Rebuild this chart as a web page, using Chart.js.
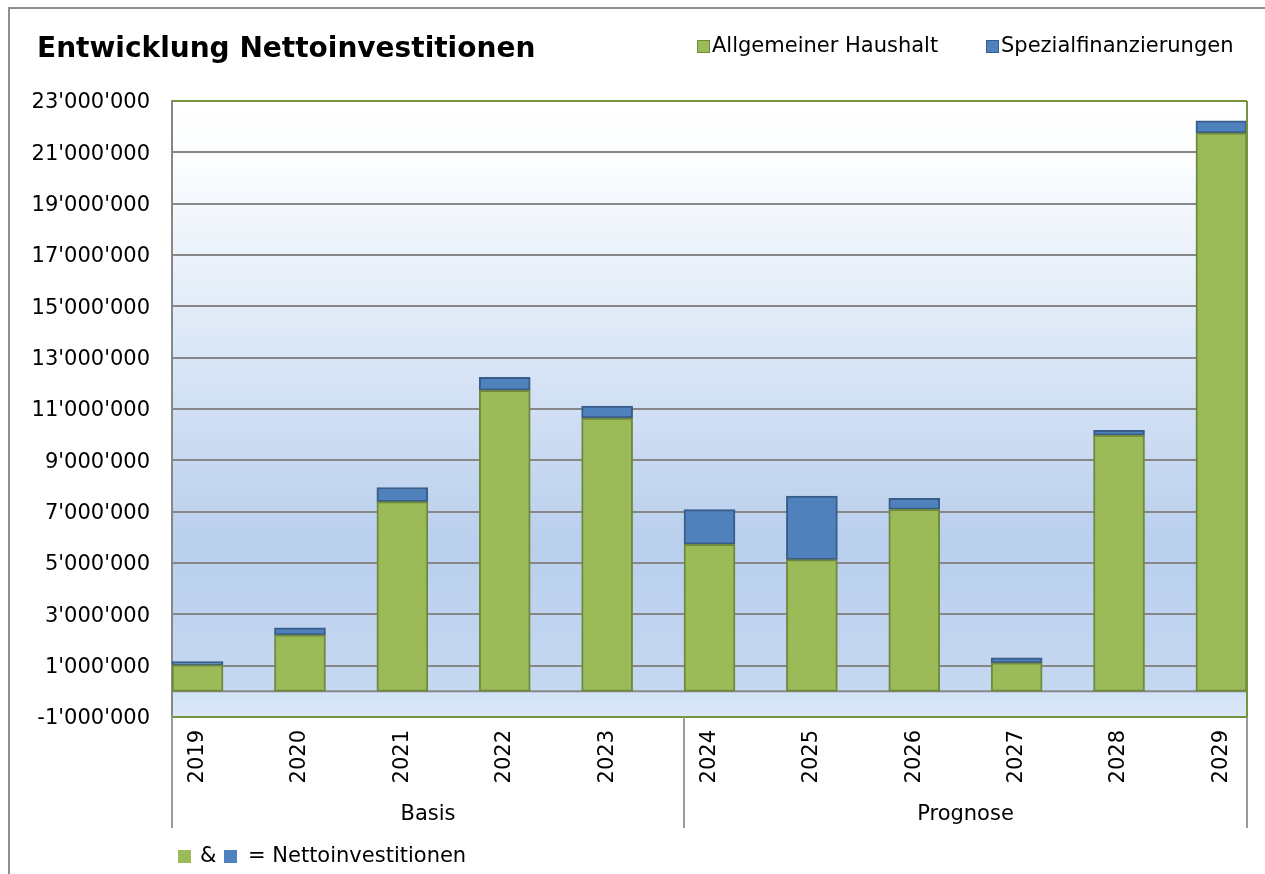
<!DOCTYPE html>
<html>
<head>
<meta charset="utf-8">
<script src="https://cdn.jsdelivr.net/npm/chart.js@4.4.0/dist/chart.umd.min.js"></script>
<style>
  body { margin: 0; background: #fff; font-family: Verdana, 'DejaVu Sans', sans-serif; color: #000; }
  #wrap { position: relative; width: 1265px; height: 874px; overflow: hidden; }
  #frame { position: absolute; left: 8px; top: 7px; width: 1300px; height: 900px;
           border-left: 2px solid #8e8e8e; border-top: 2px solid #8e8e8e; }
  #chart { position: absolute; left: 0; top: 0; }
  #title { position: absolute; left: 37px; top: 34px; font-size: 28px; line-height: 28px; font-weight: bold; white-space: nowrap; }
  .t { position: absolute; font-size: 21px; line-height: 21px; white-space: nowrap; }
  .sq { position: absolute; width: 13px; height: 13px; box-sizing: border-box; }
</style>
</head>
<body>
<div id="wrap">
  <div id="frame"></div>
  <canvas id="chart" width="1265" height="874"></canvas>
  <div id="title">Entwicklung Nettoinvestitionen</div>
  <div id="legend"></div>
  <div id="note"></div>
</div>
<script>
  // data
  const years = ['2019', '2020', '2021', '2022', '2023', '2024', '2025', '2026', '2027', '2028', '2029'];
  const groups = ['Basis', 'Prognose'];
  const groupStart = [0, 5];
  const haushalt = [1030000, 2200000, 7390000, 11730000, 10650000, 5730000, 5130000, 7090000, 1110000, 9980000, 21760000];
  const spezial = [130000, 270000, 550000, 500000, 460000, 1350000, 2480000, 430000, 200000, 190000, 470000];
  const seriesNames = ['Allgemeiner Haushalt', 'Spezialfinanzierungen'];
  const noteText = '= Nettoinvestitionen';
  const yMin = -1000000, yMax = 23000000, yStep = 2000000;

  const green = '#9bbb59', greenLine = '#71893f';
  const blue = '#4f81bd', blueLine = '#385d8a';
  const gridGray = '#878787', frameGreen = '#77933c';
  const font = "Verdana, 'DejaVu Sans', sans-serif";
  const barW = 51, pad = 0.25;

  function fmt(v) {
    const s = String(Math.abs(Math.round(v))).replace(/\B(?=(\d{3})+(?!\d))/g, "'");
    return (v < 0 ? '-' : '') + s;
  }

  // legend + note as html text
  const legend = document.getElementById('legend');
  legend.innerHTML =
    '<div class="sq" style="left:697px;top:40px;background:' + green + ';border:1px solid ' + greenLine + '"></div>' +
    '<div class="t" style="left:712px;top:35px">' + seriesNames[0] + '</div>' +
    '<div class="sq" style="left:986px;top:40px;background:' + blue + ';border:1px solid ' + blueLine + '"></div>' +
    '<div class="t" style="left:1001px;top:35px">' + seriesNames[1] + '</div>';
  const note = document.getElementById('note');
  note.innerHTML =
    '<div class="sq" style="left:178px;top:850px;background:' + green + '"></div>' +
    '<div class="t" style="left:200px;top:845px">&amp;</div>' +
    '<div class="sq" style="left:224px;top:850px;background:' + blue + '"></div>' +
    '<div class="t" style="left:248px;top:845px">' + noteText + '</div>';

  const decor = {
    id: 'decor',
    beforeDraw(chart) {
      const { ctx, chartArea: a } = chart;
      const z = (chart.scales.y.getPixelForValue(0) - a.top) / (a.bottom - a.top);
      const g = ctx.createLinearGradient(0, a.top, 0, a.bottom);
      g.addColorStop(0, '#ffffff');
      g.addColorStop(0.1, '#fbfdff');
      g.addColorStop(0.72, '#b9cfed');
      g.addColorStop(z - 0.001, '#c5d8f1');
      g.addColorStop(z + 0.001, '#d2e2f6');
      g.addColorStop(1, '#dbe8f9');
      ctx.save();
      ctx.fillStyle = g;
      ctx.fillRect(a.left, a.top, a.right - a.left, a.bottom - a.top);
      ctx.restore();
    },
    beforeDatasetsDraw(chart) {
      const { ctx, chartArea: a } = chart;
      const y0 = chart.scales.y.getPixelForValue(0);
      ctx.save();
      ctx.strokeStyle = gridGray;
      ctx.lineWidth = 2;
      ctx.beginPath();
      ctx.moveTo(a.left, y0);
      ctx.lineTo(a.right, y0);
      ctx.stroke();
      ctx.restore();
    },
    afterDraw(chart) {
      const { ctx, chartArea: a } = chart;
      const x = chart.scales.x;
      ctx.save();
      // right frame
      ctx.strokeStyle = frameGreen;
      ctx.lineWidth = 2;
      ctx.beginPath();
      ctx.moveTo(a.right, a.top);
      ctx.lineTo(a.right, a.bottom);
      ctx.stroke();
      // group separators and labels
      const lowY = 828;
      ctx.strokeStyle = '#9a9a9a';
      ctx.lineWidth = 2;
      const edges = groupStart.map(i => x.getPixelForValue(i) - barW / 2);
      edges[0] = a.left;
      edges.push(a.right);
      ctx.beginPath();
      edges.forEach(px => { ctx.moveTo(px, a.bottom); ctx.lineTo(px, lowY); });
      ctx.stroke();
      ctx.fillStyle = '#000';
      ctx.font = '21px ' + font;
      ctx.textAlign = 'center';
      ctx.textBaseline = 'middle';
      groups.forEach((g, i) => {
        ctx.fillText(g, (edges[i] + edges[i + 1]) / 2, 815);
      });
      ctx.restore();
    }
  };

  new Chart(document.getElementById('chart'), {
    type: 'bar',
    data: {
      datasets: [{
        label: seriesNames[0],
        data: haushalt.map((v, i) => ({ x: i, y: v })),
        backgroundColor: green,
        borderColor: greenLine,
        borderWidth: 2,
        borderSkipped: false,
        barThickness: barW
      }, {
        label: seriesNames[1],
        data: spezial.map((v, i) => ({ x: i, y: v })),
        backgroundColor: blue,
        borderColor: blueLine,
        borderWidth: 2,
        borderSkipped: false,
        barThickness: barW
      }]
    },
    options: {
      responsive: false,
      animation: false,
      layout: { padding: { left: 0, top: 101, right: 18, bottom: 0 } },
      plugins: { legend: { display: false }, title: { display: false }, tooltip: { enabled: false } },
      scales: {
        x: {
          type: 'linear',
          stacked: true,
          offset: false,
          min: -pad,
          max: years.length - 1 + pad,
          afterFit(s) { s.height = 157; },
          grid: { display: false, drawTicks: false, offset: false },
          border: { display: false },
          ticks: {
            stepSize: 1,
            includeBounds: false,
            autoSkip: false,
            minRotation: 90,
            maxRotation: 90,
            padding: 13,
            color: '#000',
            font: { family: font, size: 21 },
            callback: v => years[v] || ''
          }
        },
        y: {
          stacked: true,
          min: yMin,
          max: yMax,
          afterFit(s) { s.width = 172; },
          grid: {
            drawTicks: false,
            lineWidth: 2,
            color: c => (c.tick && (c.tick.value === yMax || c.tick.value === yMin)) ? frameGreen : gridGray
          },
          border: { display: true, color: gridGray, width: 2 },
          ticks: {
            stepSize: yStep,
            padding: 22,
            labelOffset: 2,
            color: '#000',
            font: { family: font, size: 21 },
            callback: v => fmt(v)
          }
        }
      }
    },
    plugins: [decor]
  });
</script>
</body>
</html>
